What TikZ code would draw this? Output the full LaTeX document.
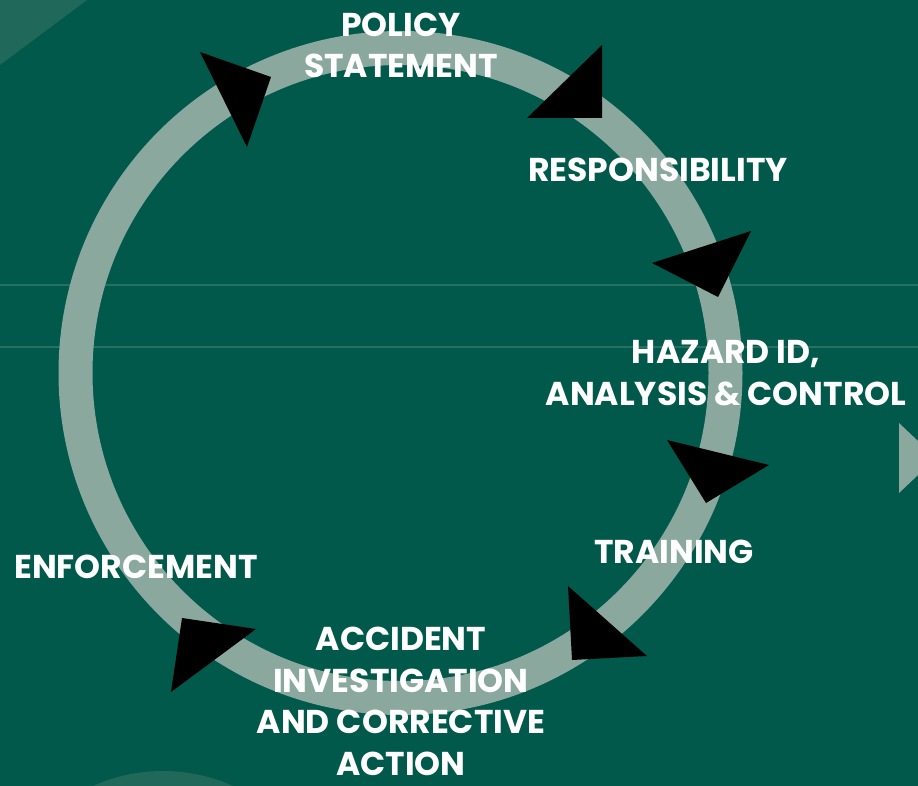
\documentclass[tikz,border=0pt]{standalone}
\usepackage{fontspec}
\setmainfont{Poppins}
\definecolor{bg}{RGB}{0,89,74}
\definecolor{ringc}{RGB}{138,168,158}
\definecolor{soft}{RGB}{32,104,90}
\definecolor{hline}{RGB}{40,112,97}
\tikzset{
  label/.style={text=white,font=\fontsize{33}{41.5}\selectfont\bfseries,align=center,inner sep=0pt},
  arrowhead/.style={fill=black,draw=none},
  ring/.style={draw=ringc,line width=34pt}
}
\begin{document}
\begin{tikzpicture}[x=1pt,y=-1pt]
\fill[bg] (0,0) rectangle (918,786);
\useasboundingbox (0,0) rectangle (918,786);
% decorations
\fill[soft] (0,0) -- (87,0) -- (0,65) -- cycle;
\begin{scope}
\clip (0,0) rectangle (918,786);
\fill[soft] (163,942) circle[radius=171];
\end{scope}
\draw[hline,line width=2pt] (0,285) -- (918,285);
\draw[hline,line width=2pt] (0,347) -- (918,347);
% ring
\coordinate (c) at (400.5,373);
\draw[ring] (c) circle[radius=325];
\fill[ringc] (899,423) -- (936,458) -- (899,493) -- cycle;
% arrowheads
\fill[arrowhead] (200,52) -- (271,77) -- (247,147) -- cycle;
\fill[arrowhead] (602,45) -- (602,118) -- (527,118) -- cycle;
\fill[arrowhead] (652,263) -- (751,231) -- (718,297) -- cycle;
\fill[arrowhead] (667,440) -- (769,465) -- (706,503) -- cycle;
\fill[arrowhead] (568,586) -- (647,656) -- (572,660) -- cycle;
\fill[arrowhead] (182,618) -- (256,629) -- (171,692) -- cycle;
% labels (base = baseline of last line)
\node[label,anchor=base] (policy) at (401,78) {POLICY\\STATEMENT};
\node[label,anchor=base] (resp) at (658,182) {RESPONSIBILITY};
\node[label,anchor=base] (hazard) at (726,405) {HAZARD ID,\\ANALYSIS \& CONTROL};
\node[label,anchor=base] (train) at (674,563) {TRAINING};
\node[label,anchor=base] (enf) at (136,578) {ENFORCEMENT};
\node[label,anchor=base] (acc) at (401,775) {ACCIDENT\\INVESTIGATION\\AND CORRECTIVE\\ACTION};
\end{tikzpicture}
\end{document}
